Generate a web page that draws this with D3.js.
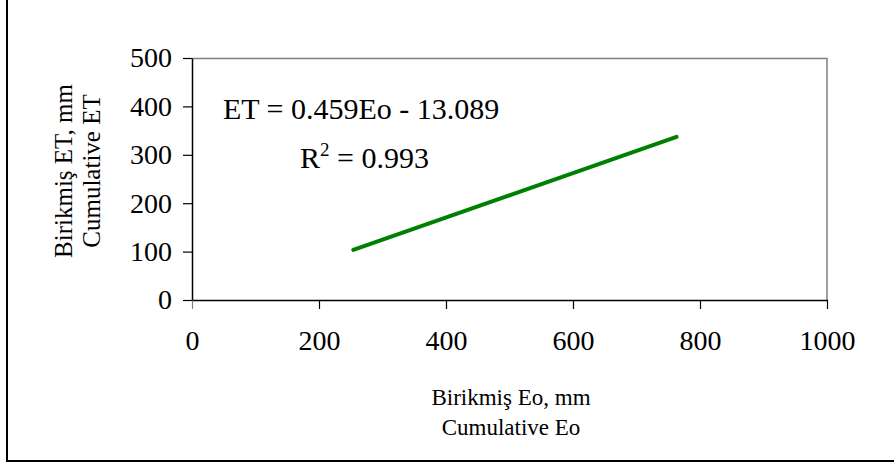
<!DOCTYPE html>
<html>
<head>
<meta charset="utf-8">
<script src="https://cdn.jsdelivr.net/npm/d3@7"></script>
<style>
  body { margin: 0; background: #fff; }
  svg { display: block; font-family: "Liberation Serif", "Times New Roman", serif; }
</style>
</head>
<body>
<div id="chart"></div>
<script>
// values (trend line ends)
var eoValues = [254, 763];
var etValues = [103.5, 337];
var xTicks = [0, 200, 400, 600, 800, 1000];
var yTicks = [0, 100, 200, 300, 400, 500];
var equationText = "ET = 0.459Eo - 13.089";
var xTitle = ["Birikmiş Eo, mm", "Cumulative Eo"];
var yTitle = ["Birikmiş ET, mm", "Cumulative ET"];

var width = 894, height = 466;
var margin = {left: 192, top: 58, right: 67, bottom: 166};
var innerW = width - margin.left - margin.right;
var innerH = height - margin.top - margin.bottom;

var svg = d3.select("#chart").append("svg")
  .attr("width", width)
  .attr("height", height);

// outer frame (only left and bottom edges show)
svg.append("line").attr("x1", 7).attr("x2", 7).attr("y1", 0).attr("y2", 461)
  .attr("stroke", "#000").attr("stroke-width", 2);
svg.append("line").attr("x1", 6).attr("x2", width).attr("y1", 461).attr("y2", 461)
  .attr("stroke", "#000").attr("stroke-width", 2);

var x = d3.scaleLinear().domain([0, 1000]).range([0, innerW]);
var y = d3.scaleLinear().domain([0, 500]).range([innerH, 0]);

var g = svg.append("g").attr("transform", "translate(" + margin.left + "," + margin.top + ")");

// top and right border of plot area
g.append("path")
  .attr("d", "M0,0.5H" + innerW + "V" + innerH)
  .attr("fill", "none").attr("stroke", "#808080").attr("stroke-width", 1.5);

var xAxis = g.append("g").attr("transform", "translate(0," + innerH + ")")
  .call(d3.axisBottom(x).tickValues(xTicks).tickFormat(d3.format("d")).tickSize(9).tickPadding(21).tickSizeOuter(0));
var yAxis = g.append("g")
  .call(d3.axisLeft(y).tickValues(yTicks).tickFormat(d3.format("d")).tickSize(9).tickPadding(11).tickSizeOuter(0));

[xAxis, yAxis].forEach(function(a) {
  a.select(".domain").attr("stroke", "#000").attr("stroke-width", 1.5);
  a.selectAll(".tick line").attr("stroke", "#000").attr("stroke-width", 1.2);
  a.selectAll("text").attr("font-family", "Liberation Serif").attr("font-size", 28).attr("fill", "#000");
});
xAxis.selectAll(".tick").filter(function(d){ return d === 0; }).select("line").attr("stroke", "#808080");

// trend line
var line = d3.line().x(function(d){ return x(d[0]); }).y(function(d){ return y(d[1]); });
g.append("path")
  .datum(d3.zip(eoValues, etValues))
  .attr("d", line)
  .attr("fill", "none")
  .attr("stroke", "#008000")
  .attr("stroke-width", 4)
  .attr("stroke-linecap", "round");

// equation
svg.append("text").attr("x", 223).attr("y", 119)
  .attr("font-size", 30).text(equationText);
var r2 = svg.append("text").attr("x", 300).attr("y", 168).attr("font-size", 30);
r2.append("tspan").text("R");
r2.append("tspan").attr("font-size", 19).attr("dy", -12).text("2");
r2.append("tspan").attr("dy", 12).text(" = 0.993");

// axis titles
svg.selectAll(".xt").data(xTitle).enter().append("text")
  .attr("x", 511).attr("y", function(d, i){ return 405 + i * 30; })
  .attr("text-anchor", "middle").attr("font-size", 23).text(function(d){ return d; });

svg.selectAll(".yt").data(yTitle).enter().append("text")
  .attr("transform", function(d, i){ return "translate(" + (72 + i * 28) + ",171) rotate(-90)"; })
  .attr("text-anchor", "middle").attr("font-size", 25).text(function(d){ return d; });
</script>
</body>
</html>
